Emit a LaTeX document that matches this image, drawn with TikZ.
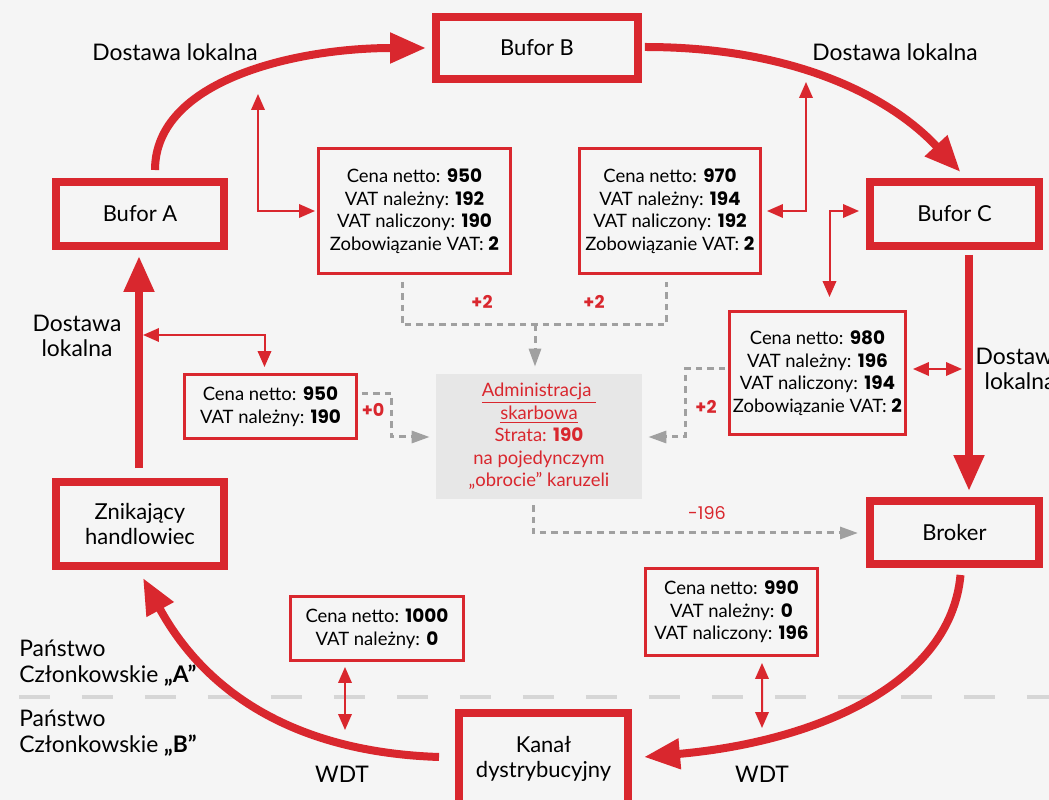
\documentclass[tikz,border=0pt]{standalone}
\usepackage{fontspec}
\setmainfont{Lato}
\newfontfamily\liczby{Poppins}
\usetikzlibrary{arrows.meta,calc}
\definecolor{R}{RGB}{217,39,46}
\definecolor{T}{RGB}{245,245,245}
\definecolor{S}{RGB}{160,160,160}
\definecolor{U}{RGB}{231,231,231}
\definecolor{L}{RGB}{214,214,214}
\newcommand{\lb}[1]{{\liczby\bfseries #1}}

\tikzset{
  gruby/.style={draw=R, line width=0.16cm, fill=T, align=center, inner sep=0pt,
    font=\fontsize{12.5}{14}\selectfont},
  faktura/.style={draw=R, line width=0.05cm, fill=T, align=center, inner sep=0pt,
    font=\fontsize{10.5}{12.8}\selectfont},
  dostawa/.style={R, line width=0.16cm, -{Triangle[length=0.72cm,width=0.58cm]}},
  powiazanie/.style={R, line width=0.04cm,
    {Triangle[length=0.32cm,width=0.27cm]}-{Triangle[length=0.32cm,width=0.27cm]}},
  szara/.style={S, line width=0.06cm, dash pattern=on 0.13cm off 0.1cm},
  szaragrot/.style={szara, -{Triangle[length=0.36cm,width=0.24cm]}},
  opis/.style={font=\fontsize{13}{14.5}\selectfont, align=center, inner sep=0pt},
  kwota/.style={text=R, inner sep=0pt, font=\fontsize{10}{12}\liczby\bfseries}
}

\begin{document}
\begin{tikzpicture}[x=0.02cm,y=-0.02cm]
  % tlo
  \fill[T] (0,0) rectangle (1049,800);
  \useasboundingbox (0,0) rectangle (1049,800);

  % granica panstw
  \draw[L, line width=0.1cm, dash pattern=on 0.62cm off 0.64cm] (19,697) -- (1049,697);

  % podmioty karuzeli
  \node[gruby, minimum width=4.04cm, minimum height=1.24cm] (bB) at (537,48) {Bufor B};
  \node[gruby, minimum width=3.36cm, minimum height=1.28cm] (bA) at (140,214) {Bufor A};
  \node[gruby, minimum width=3.38cm, minimum height=1.28cm] (bC) at (954.5,214) {Bufor C};
  \node[gruby, minimum width=3.36cm, minimum height=1.68cm] (bZ) at (140,524) {Znikający\\handlowiec};
  \node[gruby, minimum width=3.38cm, minimum height=1.26cm] (bBr) at (954.5,532.5) {Broker};
  \node[gruby, minimum width=3.38cm, minimum height=1.84cm] (bK) at (543.5,759) {Kanał\\dystrybucyjny};

  % faktury
  \node[faktura, minimum width=3.85cm, minimum height=2.51cm] (fAB) at (414.5,211)
    {Cena netto: \lb{950}\\VAT należny: \lb{192}\\VAT naliczony: \lb{190}\\Zobowiązanie VAT: \lb{2}};
  \node[faktura, minimum width=3.63cm, minimum height=2.51cm] (fBC) at (670,211)
    {Cena netto: \lb{970}\\VAT należny: \lb{194}\\VAT naliczony: \lb{192}\\Zobowiązanie VAT: \lb{2}};
  \node[faktura, minimum width=3.53cm, minimum height=2.47cm] (fCBr) at (817.5,373)
    {Cena netto: \lb{980}\\VAT należny: \lb{196}\\VAT naliczony: \lb{194}\\Zobowiązanie VAT: \lb{2}};
  \node[faktura, minimum width=3.45cm, minimum height=1.29cm] (fZA) at (270.5,406.5)
    {Cena netto: \lb{950}\\VAT należny: \lb{190}};
  \node[faktura, minimum width=3.47cm, minimum height=1.29cm] (fKZ) at (377,628.5)
    {Cena netto: \lb{1000}\\VAT należny: \lb{0}};
  \node[faktura, minimum width=3.45cm, minimum height=1.75cm] (fBrK) at (731.5,612)
    {Cena netto: \lb{990}\\VAT należny: \lb{0}\\VAT naliczony: \lb{196}};

  % urzad
  \node[fill=U, text=R, align=center, inner sep=0pt, minimum width=4.12cm, minimum height=2.5cm,
    font=\fontsize{10.5}{12.8}\selectfont] (urzad) at (539,436.5)
    {\underline{Administracja\ }\\\underline{skarbowa}\\Strata: \lb{190}\\na pojedynczym\\„obrocie” karuzeli};

  % opisy
  \node[opis] (dl1) at (175,52) {Dostawa lokalna};
  \node[opis] (dl2) at (895,52) {Dostawa lokalna};
  \node[opis] (dl3) at (77,336) {Dostawa\\lokalna};
  \node[opis] (dl4) at (1020,369) {Dostawa\\lokalna};
  \node[opis, align=left, anchor=west] (pA) at (19,663) {Państwo\\Członkowskie {\bfseries „A”}};
  \node[opis, align=left, anchor=west] (pB) at (19,733) {Państwo\\Członkowskie {\bfseries „B”}};
  \node[opis] (wdt1) at (342,774) {WDT};
  \node[opis] (wdt2) at (762,774) {WDT};

  % dostawy (grube strzalki)
  \draw[dostawa] ($(bA.north)+(15,-8)$) .. controls +(0,-90) and +(-130,0) .. ($(bB.west)+(-6,0)$);
  \draw[dostawa] ($(bB.east)+(3,-1)$) .. controls +(150,0) and +(-70,-75) .. ($(bC.north)+(6,-6)$);
  \draw[dostawa] ($(bC.south)+(14.5,5)$) -- ($(bBr.north)+(14.5,-6)$);
  \draw[dostawa] ($(bBr.south)+(6,7)$) .. controls +(-10,110) and +(170,-15) .. ($(bK.east)+(12,-2)$);
  \draw[dostawa] ($(bK.west)+(-16,-2)$) .. controls +(-150,-5) and +(60,110) .. ($(bZ.south)+(3,8)$);
  \draw[dostawa] ($(bZ.north)+(-1,-10)$) -- ($(bA.south)+(-1,6)$);

  % powiazania faktur
  \coordinate (kAB) at (258,94);
  \coordinate (kBC) at (806,82);
  \coordinate (kC) at (962,369);
  \coordinate (kA) at (143,335);
  \coordinate (kK1) at (345,730);
  \coordinate (kK2) at (762,728);
  \draw[powiazanie] (kAB) |- ($(fAB.west)+(-2,0)$);
  \draw[powiazanie] ($(fBC.east)+(5,0)$) -| (kBC);
  \draw[powiazanie] ($(fCBr.north)+(12,-13)$) |- ($(bC.west)+(-7,-3)$);
  \draw[powiazanie] ($(fCBr.east)+(6,-4)$) -- (kC);
  \draw[powiazanie] (kA) -| ($(fZA.north)+(-6,-6)$);
  \draw[powiazanie] ($(fKZ.south)+(-32,5)$) -- (kK1);
  \draw[powiazanie] ($(fBrK.south)+(30.5,6)$) -- (kK2);

  % przeplywy VAT (szare)
  \coordinate (j1) at (535,325);
  \draw[szara] ($(fAB.south)+(-12.5,7)$) |- (j1) -| ($(fBC.south)+(-4,7)$);
  \draw[szaragrot] (j1) -- ($(urzad.north)+(-4,-7)$);
  \draw[szaragrot] ($(fZA.east)+(4,-12.5)$) -- ++(30,0) |- ($(urzad.west)+(-6,0.5)$);
  \draw[szaragrot] ($(fCBr.west)+(-3,-4)$) -- ++(-40,0) |- ($(urzad.east)+(6,0.5)$);
  \draw[szaragrot] ($(urzad.south)+(-6,6)$) |- ($(bBr.west)+(-8,0.5)$);

  % kwoty
  \node[kwota] (k1) at (482,302) {+2};
  \node[kwota] (k2) at (594,302) {+2};
  \node[kwota] (k3) at (373,410) {+0};
  \node[kwota] (k4) at (706,407) {+2};
  \node[kwota, font=\fontsize{10}{12}\liczby] (k5) at (707,513) {-196};
\end{tikzpicture}
\end{document}
